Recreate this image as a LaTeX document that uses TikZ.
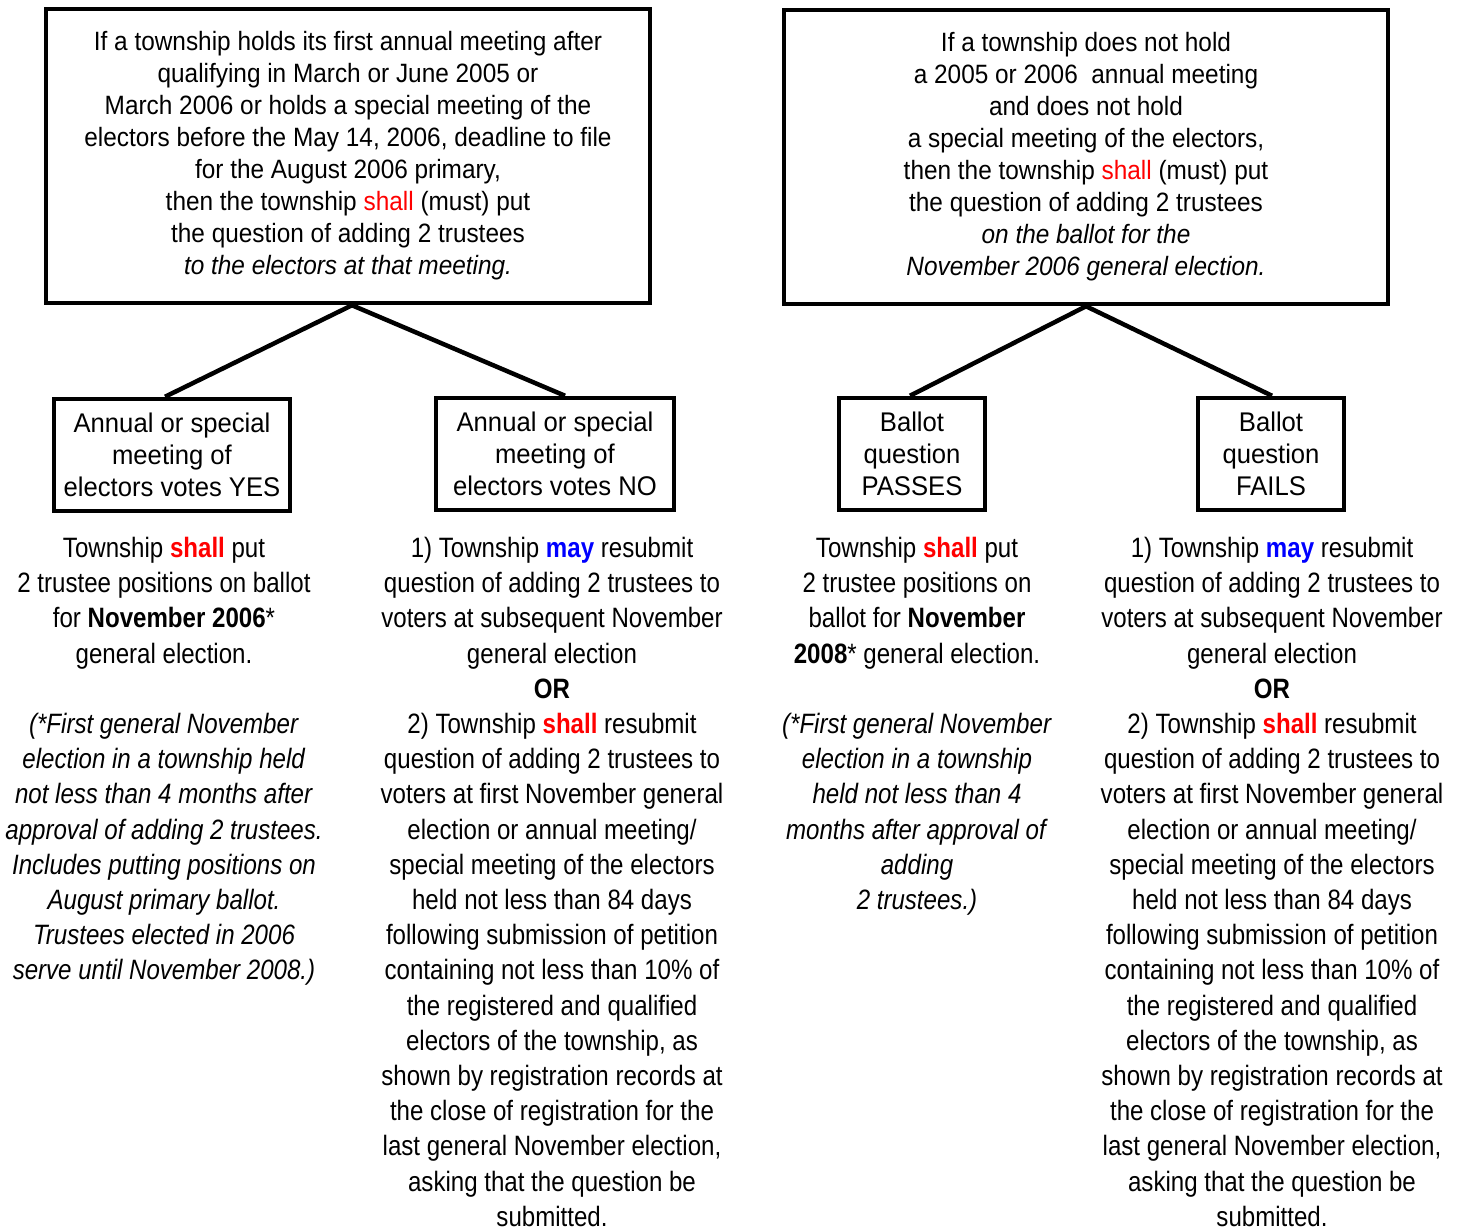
\documentclass[tikz,border=0pt]{standalone}
\usepackage{fontspec}
\setmainfont{Liberation Sans}
\newfontfamily\boxf[FakeStretch=0.92]{Liberation Sans}
\newfontfamily\lblf[FakeStretch=0.95]{Liberation Sans}
\newfontfamily\bodyf[FakeStretch=0.86]{Liberation Sans}
\definecolor{shallred}{RGB}{255,0,0}
\definecolor{mayblue}{RGB}{0,0,255}
\newcommand\redshall{\textcolor{shallred}{shall}}
\newcommand\boldshall{\textbf{\textcolor{shallred}{shall}}}
\newcommand\boldmay{\textbf{\textcolor{mayblue}{may}}}
\begin{document}
\begin{tikzpicture}[x=1pt,y=-1pt,
  bigbox/.style={draw,line width=4.5pt,minimum width=604pt,minimum height=294pt,align=center,inner sep=0pt,font=\boxf\fontsize{26.5}{32}\selectfont},
  smallbox/.style={draw,line width=4.5pt,minimum height=112pt,align=center,inner sep=0pt,font=\lblf\fontsize{27}{32}\selectfont},
  bodytext/.style={anchor=north,inner sep=0pt,align=center,font=\bodyf\fontsize{28}{35.2}\selectfont},
  conn/.style={line width=4.5pt}]
\useasboundingbox (0,0) rectangle (1463,1228);

\node[bigbox] (b1) at (348,156) {If a township holds its first annual meeting after\\
qualifying in March or June 2005 or\\
March 2006 or holds a special meeting of the\\
electors before the May 14, 2006, deadline to file\\
for the August 2006 primary,\\
then the township \redshall{} (must) put\\
the question of adding 2 trustees\\
\textit{to the electors at that meeting.}};

\node[bigbox] (b2) at (1086,157) {If a township does not hold\\
a 2005 or 2006~ annual meeting\\
and does not hold\\
a special meeting of the electors,\\
then the township \redshall{} (must) put\\
the question of adding 2 trustees\\
\textit{on the ballot for the}\\
\textit{November 2006 general election.}};

\node[smallbox,minimum width=236pt] (yes) at (172,455) {Annual or special\\meeting of\\electors votes YES};
\node[smallbox,minimum width=238pt] (no) at (555,454) {Annual or special\\meeting of\\electors votes NO};
\node[smallbox,minimum width=146pt] (pass) at (912,454) {Ballot\\question\\PASSES};
\node[smallbox,minimum width=146pt] (fail) at (1271,454) {Ballot\\question\\FAILS};

\draw[conn] ([xshift=4pt]b1.south) -- ([xshift=-7pt]yes.north);
\draw[conn] ([xshift=4pt]b1.south) -- ([xshift=10pt]no.north);
\draw[conn] (b2.south) -- ([xshift=-2pt]pass.north);
\draw[conn] (b2.south) -- ([xshift=1pt]fail.north);

\node[bodytext] (tyes) at (164,537) {Township \boldshall{} put\\
2 trustee positions on ballot\\
for \textbf{November 2006}*\\
general election.\\[35.2pt]
\textit{(*First general November}\\
\textit{election in a township held}\\
\textit{not less than 4 months after}\\
\textit{approval of adding 2 trustees.}\\
\textit{Includes putting positions on}\\
\textit{August primary ballot.}\\
\textit{Trustees elected in 2006}\\
\textit{serve until November 2008.)}};

\node[bodytext] (tno) at (552,537) {1) Township \boldmay{} resubmit\\
question of adding 2 trustees to\\
voters at subsequent November\\
general election\\
\textbf{OR}\\
2) Township \boldshall{} resubmit\\
question of adding 2 trustees to\\
voters at first November general\\
election or annual meeting/\\
special meeting of the electors\\
held not less than 84 days\\
following submission of petition\\
containing not less than 10\% of\\
the registered and qualified\\
electors of the township, as\\
shown by registration records at\\
the close of registration for the\\
last general November election,\\
asking that the question be\\
submitted.};

\node[bodytext] (tpass) at (917,537) {Township \boldshall{} put\\
2 trustee positions on\\
ballot for \textbf{November}\\
\textbf{2008}* general election.\\[35.2pt]
\textit{(*First general November}\\
\textit{election in a township}\\
\textit{held not less than 4}\\
\textit{months after approval of}\\
\textit{adding}\\
\textit{2 trustees.)}};

\node[bodytext] (tfail) at (1272,537) {1) Township \boldmay{} resubmit\\
question of adding 2 trustees to\\
voters at subsequent November\\
general election\\
\textbf{OR}\\
2) Township \boldshall{} resubmit\\
question of adding 2 trustees to\\
voters at first November general\\
election or annual meeting/\\
special meeting of the electors\\
held not less than 84 days\\
following submission of petition\\
containing not less than 10\% of\\
the registered and qualified\\
electors of the township, as\\
shown by registration records at\\
the close of registration for the\\
last general November election,\\
asking that the question be\\
submitted.};
\end{tikzpicture}
\end{document}
